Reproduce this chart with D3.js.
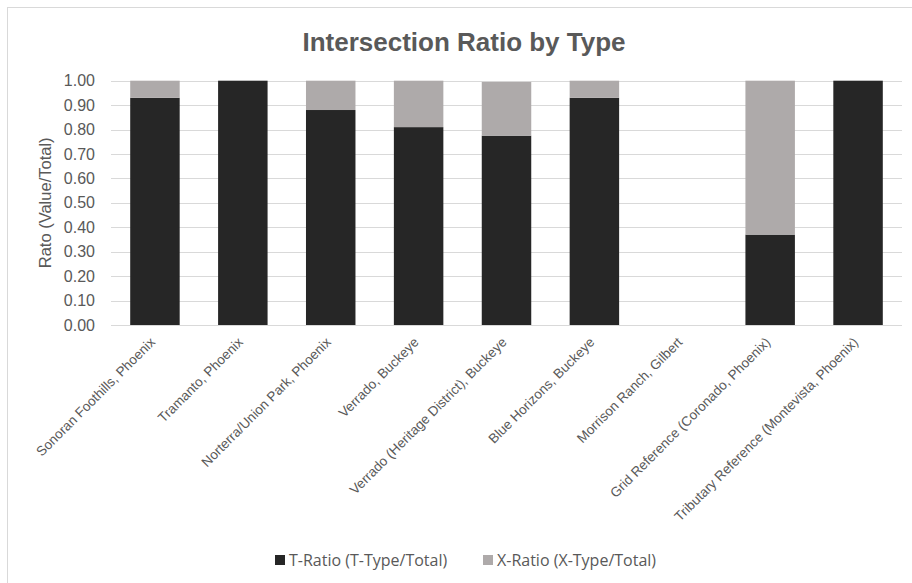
<!DOCTYPE html>
<html>
<head>
<meta charset="utf-8">
<script src="https://cdn.jsdelivr.net/npm/d3@7"></script>
<style>
  html, body { margin: 0; padding: 0; background: #fff; }
  svg { display: block; }
</style>
</head>
<body>
<svg id="chart" width="912" height="583"></svg>
<script>
// Development names shown along the x axis
const categories = [
  "Sonoran Foothills, Phoenix",
  "Tramanto, Phoenix",
  "Norterra/Union Park, Phoenix",
  "Verrado, Buckeye",
  "Verrado (Heritage District), Buckeye",
  "Blue Horizons, Buckeye",
  "Morrison Ranch, Gilbert",
  "Grid Reference (Coronado, Phoenix)",
  "Tributary Reference (Montevista, Phoenix)"
];
// Share of T-type intersections in each development
const tRatio = [0.93, 1.00, 0.88, 0.81, 0.775, 0.93, 0, 0.37, 1.00];
// Share of X-type intersections in each development
const xRatio = [0.07, 0.00, 0.12, 0.19, 0.22, 0.07, 0, 0.63, 0.00];
// Series names for the legend
const seriesNames = ["T-Ratio (T-Type/Total)", "X-Ratio (X-Type/Total)"];
// Y axis tick values
const yTicks = [0, 0.1, 0.2, 0.3, 0.4, 0.5, 0.6, 0.7, 0.8, 0.9, 1.0];

const colors = { t: "#262626", x: "#aeaaaa" };
const textColor = "#595959";
const axisFont = "'Liberation Sans', Arial, sans-serif";

const svg = d3.select("#chart");
const plot = { left: 111, right: 902, top: 80.7, bottom: 325 };

// Outer chart frame
svg.append("rect")
  .attr("x", 7.5).attr("y", 7.5)
  .attr("width", 920).attr("height", 600)
  .attr("fill", "none").attr("stroke", "#d9d9d9").attr("stroke-width", 1);

const x = d3.scaleBand()
  .domain(categories)
  .range([plot.left, plot.right])
  .paddingInner(0.437)
  .paddingOuter(0.2185);

const y = d3.scaleLinear().domain([0, 1]).range([plot.bottom, plot.top]);

// Horizontal gridlines
svg.append("g")
  .selectAll("line")
  .data(yTicks)
  .join("line")
  .attr("x1", plot.left).attr("x2", plot.right)
  .attr("y1", d => Math.round(y(d)) + 0.5).attr("y2", d => Math.round(y(d)) + 0.5)
  .attr("stroke", "#d9d9d9").attr("stroke-width", 1);

// Stacked bars
const rows = categories.map((c, i) => ({ cat: c, t: tRatio[i], x: xRatio[i] }));
const stacked = d3.stack().keys(["t", "x"])(rows);

svg.append("g")
  .selectAll("g")
  .data(stacked)
  .join("g")
  .attr("fill", s => colors[s.key])
  .selectAll("rect")
  .data(s => s)
  .join("rect")
  .attr("x", d => x(d.data.cat))
  .attr("width", x.bandwidth())
  .attr("y", d => y(d[1]))
  .attr("height", d => Math.max(0, y(d[0]) - y(d[1])));

// Y axis
const yAxis = svg.append("g")
  .attr("transform", `translate(${plot.left - 16},0)`)
  .call(d3.axisLeft(y).tickValues(yTicks).tickFormat(d3.format(".2f")).tickSize(0).tickPadding(0));
yAxis.select(".domain").remove();
yAxis.selectAll("text")
  .attr("fill", textColor)
  .style("font-family", axisFont)
  .style("font-size", "16px");

// X axis labels, rotated
const xAxis = svg.append("g")
  .attr("transform", `translate(0,${plot.bottom})`)
  .call(d3.axisBottom(x).tickSize(0).tickPadding(0));
xAxis.select(".domain").remove();
xAxis.selectAll("text")
  .attr("fill", textColor)
  .style("font-family", axisFont)
  .style("font-size", "13.5px")
  .attr("text-anchor", "end")
  .attr("dy", null)
  .attr("y", 0)
  .attr("transform", "translate(1,18) rotate(-45)");

// Y axis title
svg.append("text")
  .attr("transform", `translate(51,${(plot.top + plot.bottom) / 2}) rotate(-90)`)
  .attr("text-anchor", "middle")
  .attr("fill", textColor)
  .style("font-family", axisFont)
  .style("font-size", "16.5px")
  .text("Rato (Value/Total)");

// Chart title
svg.append("text")
  .attr("x", 464).attr("y", 51)
  .attr("text-anchor", "middle")
  .attr("fill", textColor)
  .style("font-family", axisFont)
  .style("font-weight", "bold")
  .style("font-size", "26px")
  .text("Intersection Ratio by Type");

// Legend
const legend = svg.append("g").attr("transform", "translate(0,560)");
const legendX = [275, 483];
seriesNames.forEach((name, i) => {
  const g = legend.append("g").attr("transform", `translate(${legendX[i]},0)`);
  g.append("rect").attr("x", 0).attr("y", -5).attr("width", 10).attr("height", 10)
    .attr("fill", i === 0 ? colors.t : colors.x);
  g.append("text").attr("x", 14).attr("y", 0).attr("dy", "0.35em")
    .attr("fill", textColor)
    .style("font-family", "'Open Sans', 'Noto Sans', sans-serif")
    .style("font-size", "16px")
    .text(name);
});
</script>
</body>
</html>
